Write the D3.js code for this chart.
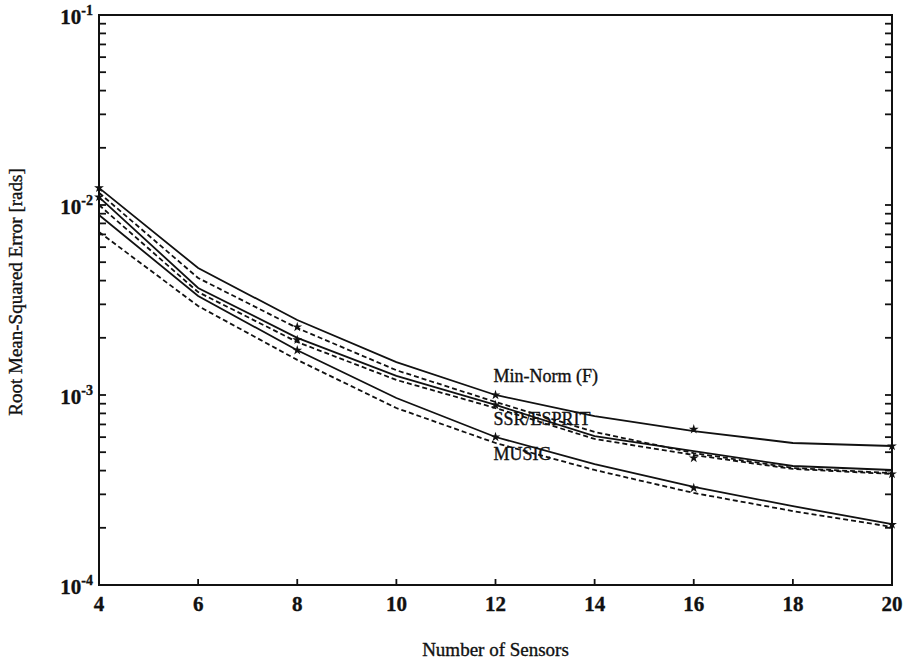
<!DOCTYPE html>
<html>
<head>
<meta charset="utf-8">
<script src="https://cdn.jsdelivr.net/npm/d3@7"></script>
<style>
  body { margin: 0; background: #fff; }
  svg { display: block; }
  text { font-family: "Liberation Serif", "DejaVu Serif", serif; fill: #111; stroke: #111; stroke-width: 0.35px; }
</style>
</head>
<body>
<div id="chart"></div>
<script>
// Number of sensors (x values)
const sensors = [4, 6, 8, 10, 12, 14, 16, 18, 20];

// RMSE curves (solid = theory, dashed = simulation)
const minNormSolid  = [1.23e-2, 4.66e-3, 2.48e-3, 1.49e-3, 1.00e-3, 7.75e-4, 6.46e-4, 5.59e-4, 5.39e-4];
const minNormDashed = [1.16e-2, 4.13e-3, 2.25e-3, 1.35e-3, 9.19e-4, 6.39e-4, 4.95e-4, 4.13e-4, 3.88e-4];
const ssrSolid      = [1.10e-2, 3.66e-3, 2.00e-3, 1.26e-3, 8.86e-4, 6.08e-4, 5.07e-4, 4.23e-4, 4.03e-4];
const ssrDashed     = [1.00e-2, 3.48e-3, 1.90e-3, 1.20e-3, 8.54e-4, 5.87e-4, 4.83e-4, 4.08e-4, 3.84e-4];
const musicSolid    = [8.86e-3, 3.32e-3, 1.72e-3, 9.64e-4, 6.01e-4, 4.33e-4, 3.28e-4, 2.60e-4, 2.09e-4];
const musicDashed   = [7.21e-3, 2.94e-3, 1.53e-3, 8.54e-4, 5.59e-4, 4.03e-4, 3.05e-4, 2.45e-4, 2.02e-4];

// marker points
const minNormMarkN  = [4, 8, 12, 16, 20];
const minNormMarks  = [1.23e-2, 2.28e-3, 1.00e-3, 6.60e-4, 5.39e-4];
const ssrMarkN      = [4, 8, 12, 16, 20];
const ssrMarks      = [1.10e-2, 1.95e-3, 8.86e-4, 4.66e-4, 3.84e-4];
const musicMarkN    = [8, 12, 16, 20];
const musicMarks    = [1.72e-3, 6.01e-4, 3.24e-4, 2.08e-4];

const xTicks = [4, 6, 8, 10, 12, 14, 16, 18, 20];
const yDecades = [1e-4, 1e-3, 1e-2, 1e-1];
const yDecadeLabels = ["-4", "-3", "-2", "-1"];

const curveLabels = ["Min-Norm (F)", "SSR/ESPRIT", "MUSIC"];
const xLabelText = "Number of Sensors";
const yLabelText = "Root Mean-Squared Error [rads]";

let margin = { top: 15, left: 99, right: 14, bottom: 83 },
  width = 906 - margin.left - margin.right,
  height = 668 - margin.top - margin.bottom;

let svg = d3.select("#chart")
  .append("svg")
    .attr("width", 906)
    .attr("height", 668);

let g = svg.append("g")
    .attr("transform", "translate(" + margin.left + "," + margin.top + ")");

let xScale = d3.scaleLinear().domain([4, 20]).range([0, width]);
let yScale = d3.scaleLog().domain([1e-4, 1e-1]).range([height, 0]);

// minor ticks for log axis
let minorTicks = [];
yDecades.slice(0, 3).forEach(function(d) {
  for (let k = 2; k <= 9; k++) minorTicks.push(d * k);
});

// left and right tick marks (inward)
let tickG = g.append("g").attr("stroke", "#111").attr("stroke-width", 1.8);
minorTicks.concat(yDecades).forEach(function(v) {
  let y = yScale(v);
  tickG.append("line").attr("x1", 0).attr("x2", 7).attr("y1", y).attr("y2", y);
  tickG.append("line").attr("x1", width).attr("x2", width - 7).attr("y1", y).attr("y2", y);
});
xTicks.forEach(function(v) {
  let x = xScale(v);
  tickG.append("line").attr("x1", x).attr("x2", x).attr("y1", height).attr("y2", height - 6);
});

// frame
g.append("rect")
  .attr("width", width)
  .attr("height", height)
  .attr("fill", "none")
  .attr("stroke", "#111")
  .attr("stroke-width", 2);

// y tick labels: 10 with superscript exponent
yDecades.forEach(function(v, i) {
  let t = g.append("text")
    .attr("x", -6)
    .attr("y", yScale(v) + 9)
    .attr("text-anchor", "end")
    .style("font-size", "21px")
    .style("font-weight", "bold");
  t.append("tspan").text("10");
  t.append("tspan")
    .attr("dy", -9)
    .style("font-size", "14px")
    .text(yDecadeLabels[i]);
});

// x tick labels
g.selectAll(".xlab")
  .data(xTicks)
  .enter()
  .append("text")
    .attr("class", "xlab")
    .attr("x", d => xScale(d))
    .attr("y", height + 26)
    .attr("text-anchor", "middle")
    .style("font-size", "21px")
    .style("font-weight", "bold")
    .text(d => d);

// axis titles
svg.append("text")
  .attr("x", margin.left + width / 2)
  .attr("y", 656)
  .attr("text-anchor", "middle")
  .style("font-size", "19px")
  .text(xLabelText);

svg.append("text")
  .attr("transform", "translate(22,292) rotate(-90)")
  .attr("text-anchor", "middle")
  .style("font-size", "19px")
  .text(yLabelText);

// curves
const line = d3.line()
  .x((d, i) => xScale(sensors[i]))
  .y(d => yScale(d));

const curves = [
  { values: minNormSolid, dash: null },
  { values: minNormDashed, dash: "5,3" },
  { values: ssrSolid, dash: null },
  { values: ssrDashed, dash: "5,3" },
  { values: musicSolid, dash: null },
  { values: musicDashed, dash: "5,3" }
];

g.selectAll(".curve")
  .data(curves)
  .enter()
  .append("path")
    .attr("class", "curve")
    .attr("d", d => line(d.values))
    .attr("fill", "none")
    .attr("stroke", "#111")
    .attr("stroke-width", 1.8)
    .attr("stroke-dasharray", d => d.dash);

// markers
const markSets = [
  { n: minNormMarkN, v: minNormMarks },
  { n: ssrMarkN, v: ssrMarks },
  { n: musicMarkN, v: musicMarks }
];
const star = d3.symbol().type(d3.symbolStar).size(30);
markSets.forEach(function(s) {
  g.selectAll(null)
    .data(s.v)
    .enter()
    .append("path")
      .attr("d", star)
      .attr("transform", (d, i) => "translate(" + xScale(s.n[i]) + "," + yScale(d) + ")")
      .attr("fill", "#111");
});

// curve labels placed near n = 12
const labelVals = [1.0e-3 * 1.17, 8.86e-4 * 0.78, 6.01e-4 * 0.76];
curveLabels.forEach(function(txt, i) {
  g.append("text")
    .attr("x", xScale(12) - 2)
    .attr("y", yScale(labelVals[i]))
    .style("font-size", "18px")
    .text(txt);
});
</script>
</body>
</html>
